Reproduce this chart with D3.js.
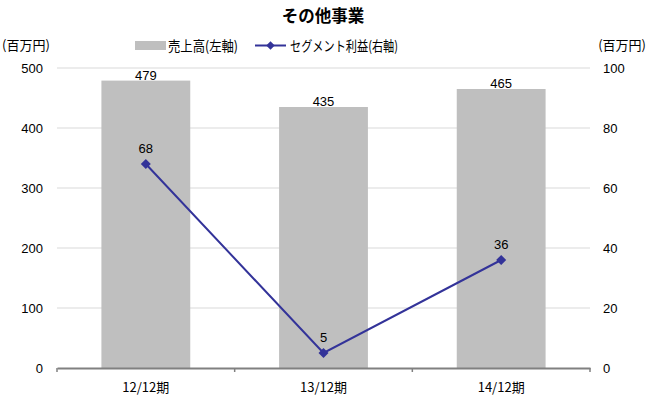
<!DOCTYPE html>
<html><head><meta charset="utf-8">
<script src="https://cdn.jsdelivr.net/npm/d3@7"></script>
<style>body{margin:0;background:#fff}svg{display:block}</style>
</head><body>
<svg id="c" width="647" height="400"></svg>
<script>
const categories = ["12/12期", "13/12期", "14/12期"];
const sales = [479, 435, 465];
const segmentProfit = [68, 5, 36];
const leftTicks = [0, 100, 200, 300, 400, 500];
const rightTicks = [0, 20, 40, 60, 80, 100];
const title = "その他事業";
const seriesNames = ["売上高(左軸)", "セグメント利益(右軸)"];
const unitLabel = "(百万円)";

const svg = d3.select("#c");
const font = "Arial, 'Liberation Sans', 'Noto Sans CJK JP', sans-serif";
const jp = "'Noto Sans CJK JP', sans-serif";
const m = {left: 57, right: 590, top: 68, bottom: 368};

const x = d3.scaleBand().domain(categories).range([m.left, m.right]).paddingInner(0.5).paddingOuter(0.25);
const xb = d3.scaleBand().domain(categories).range([m.left, m.right]);
const yL = d3.scaleLinear().domain([0, 500]).range([m.bottom, m.top]);
const yR = d3.scaleLinear().domain([0, 100]).range([m.bottom, m.top]);

// gridlines
svg.append("g").selectAll("line").data(leftTicks.filter(d => d > 0)).join("line")
  .attr("x1", m.left).attr("x2", m.right)
  .attr("y1", d => yL(d)).attr("y2", d => yL(d))
  .attr("stroke", "#d9d9d9").attr("stroke-width", 1);

// bars
svg.append("g").selectAll("rect").data(sales).join("rect")
  .attr("x", (d, i) => x(categories[i])).attr("width", x.bandwidth())
  .attr("y", d => yL(d)).attr("height", d => yL(0) - yL(d))
  .attr("fill", "#bfbfbf");

// bottom axis
const xAxis = svg.append("g").attr("transform", `translate(0,${m.bottom})`)
  .call(d3.axisBottom(xb).tickSize(0).tickFormat(""));
xAxis.select(".domain").attr("stroke", "#808080").attr("stroke-width", 2);
svg.append("g").selectAll("line").data([m.left, ...categories.map(c => xb(c) + xb.bandwidth())]).join("line")
  .attr("x1", d => d).attr("x2", d => d).attr("y1", m.bottom).attr("y2", m.bottom + 4)
  .attr("stroke", "#808080").attr("stroke-width", 1.5);
svg.append("g").selectAll("text").data(categories).join("text")
  .attr("x", d => xb(d) + xb.bandwidth() / 2).attr("y", 392)
  .attr("text-anchor", "middle").attr("font-family", jp).attr("font-size", 13).attr("fill", "#000")
  .text(d => d);

// left axis labels
const la = svg.append("g").attr("transform", `translate(${m.left - 14},0)`)
  .call(d3.axisLeft(yL).tickValues(leftTicks).tickSize(0).tickPadding(0));
la.select(".domain").remove();
la.selectAll("text").attr("font-family", font).attr("font-size", 13).attr("fill", "#000");

// right axis labels
const ra = svg.append("g").attr("transform", `translate(${m.right + 13},0)`)
  .call(d3.axisRight(yR).tickValues(rightTicks).tickSize(0).tickPadding(0));
ra.select(".domain").remove();
ra.selectAll("text").attr("font-family", font).attr("font-size", 13).attr("fill", "#000");

// bar labels
svg.append("g").selectAll("text").data(sales).join("text")
  .attr("x", (d, i) => x(categories[i]) + x.bandwidth() / 2).attr("y", d => yL(d) - 1)
  .attr("text-anchor", "middle").attr("font-family", font).attr("font-size", 13).attr("fill", "#000")
  .text(d => d);

// line
const lineColor = "#333399";
const line = d3.line().x((d, i) => xb(categories[i]) + xb.bandwidth() / 2).y(d => yR(d));
svg.append("path").datum(segmentProfit).attr("d", line)
  .attr("fill", "none").attr("stroke", lineColor).attr("stroke-width", 2);
svg.append("g").selectAll("path").data(segmentProfit).join("path")
  .attr("transform", (d, i) => `translate(${xb(categories[i]) + xb.bandwidth() / 2},${yR(d)})`)
  .attr("d", d3.symbol(d3.symbolDiamond2, 64)).attr("fill", lineColor);
svg.append("g").selectAll("text").data(segmentProfit).join("text")
  .attr("x", (d, i) => xb(categories[i]) + xb.bandwidth() / 2).attr("y", d => yR(d) - 11)
  .attr("text-anchor", "middle").attr("font-family", font).attr("font-size", 13).attr("fill", "#000")
  .text(d => d);

// title
svg.append("text").attr("x", 323).attr("y", 22).attr("text-anchor", "middle")
  .attr("font-family", jp).attr("font-weight", "bold").attr("font-size", 16.5).text(title);

// units
svg.append("text").attr("x", 2).attr("y", 50).attr("font-family", jp).attr("font-size", 13).text(unitLabel);
svg.append("text").attr("x", 646).attr("y", 50).attr("text-anchor", "end").attr("font-family", jp).attr("font-size", 13).text(unitLabel);

// legend
const lg = svg.append("g");
lg.append("rect").attr("x", 135).attr("y", 41).attr("width", 31).attr("height", 9).attr("fill", "#bfbfbf");
lg.append("text").attr("x", 168).attr("y", 51).attr("font-family", jp).attr("font-size", 14)
  .attr("textLength", 70).attr("lengthAdjust", "spacingAndGlyphs").text(seriesNames[0]);
lg.append("line").attr("x1", 255).attr("x2", 286).attr("y1", 45.5).attr("y2", 45.5).attr("stroke", lineColor).attr("stroke-width", 2);
lg.append("path").attr("transform", "translate(270.5,45.5)").attr("d", d3.symbol(d3.symbolDiamond2, 45)).attr("fill", lineColor);
lg.append("text").attr("x", 290).attr("y", 51).attr("font-family", jp).attr("font-size", 14)
  .attr("textLength", 108).attr("lengthAdjust", "spacingAndGlyphs").text(seriesNames[1]);
</script>
</body></html>
